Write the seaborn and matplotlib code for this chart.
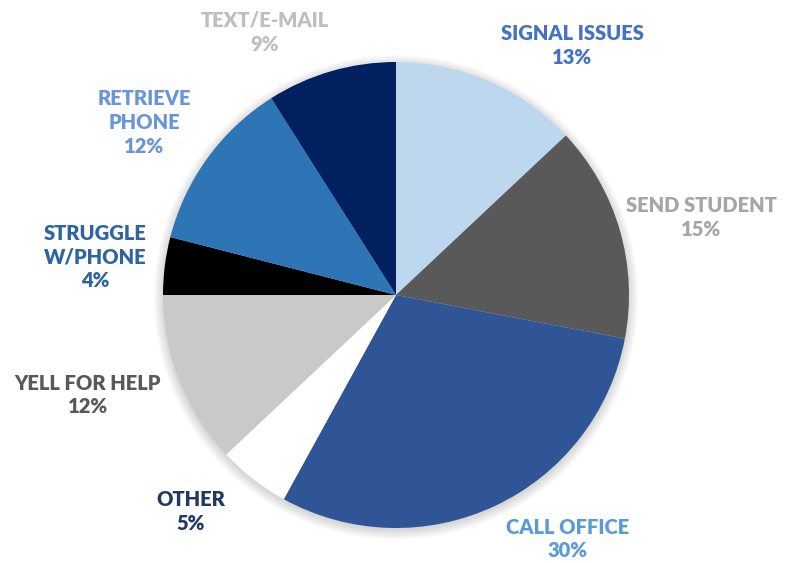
"""plot.py - pie chart of how teachers get help in class"""

import matplotlib
matplotlib.use('Agg')
import matplotlib.pyplot as plt
import seaborn as sns
import numpy as np
from matplotlib.patches import Circle

# data
categories = ['SIGNAL ISSUES', 'SEND STUDENT', 'CALL OFFICE', 'OTHER',
              'YELL FOR HELP', 'STRUGGLE\nW/PHONE', 'RETRIEVE\nPHONE', 'TEXT/E-MAIL']
shares = [13, 15, 30, 5, 12, 4, 12, 9]

# styles
wedge_colors = ['#BDD7EE', '#595959', '#2F5597', '#FFFFFF',
                '#C9C9C9', '#000000', '#2E75B6', '#002060']
label_colors = ['#4472C4', '#A6A6A6', '#5B9BD5', '#203864',
                '#595959', '#2E64A0', '#6A96D8', '#BFBFBF']
# label placement (angle in degrees, distance in radii), Excel "best fit" style
label_angle = [54.7, 14.2, -54.9, -133.5, -162.0, 172.8, 145.6, 116.5]
label_dist = [1.31, 1.35, 1.28, 1.28, 1.39, 1.30, 1.31, 1.26]

sns.set_theme(style='white')
plt.rcParams['font.family'] = ['Lato', 'DejaVu Sans']

fig = plt.figure(figsize=(7.93, 5.63), dpi=100)
ax = fig.add_axes([0, 0, 1, 1])

# soft shadow around the pie
for r in np.linspace(1.04, 1.0, 10):
    ax.add_patch(Circle((0.0, -0.01), r, color='black', alpha=0.016, lw=0, zorder=0))

ax.pie(shares, colors=wedge_colors, startangle=90, counterclock=False,
       radius=1.0, wedgeprops=dict(linewidth=0, zorder=1))

for name, val, col, a, d in zip(categories, shares, label_colors, label_angle, label_dist):
    t = np.deg2rad(a)
    ax.text(d * np.cos(t), d * np.sin(t), f'{name}\n{val}%', color=col,
            ha='center', va='center', fontsize=14.5, fontweight='heavy',
            linespacing=1.3)

ax.set_xlim(-396 / 233, (793 - 396) / 233)
ax.set_ylim(-(563 - 295) / 233, 295 / 233)
ax.set_aspect('auto')
ax.axis('off')

fig.savefig('out.png', dpi=100)
plt.close(fig)
